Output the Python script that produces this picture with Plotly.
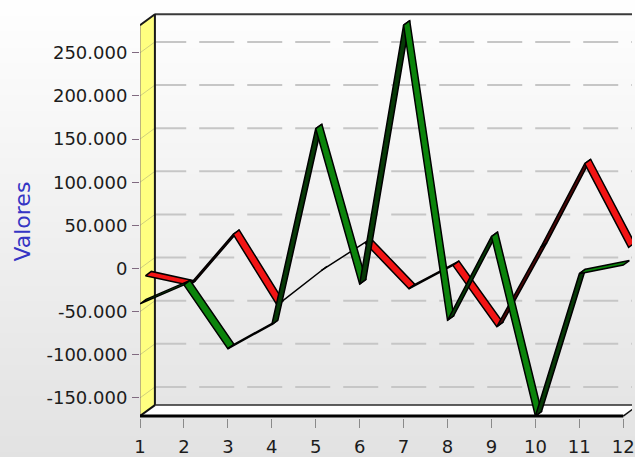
import plotly.graph_objects as go

# ---- data -------------------------------------------------------------
categorias = list(range(1, 13))
serie_verde = [-41000, -19000, -93000, -65000, 162000, -18000,
               282000, -60000, 37000, -171000, -6000, 4000]
serie_roja = [-13000, -24000, 35000, -47000, -7000, 25000,
              -28000, -1000, -72000, 20000, 117000, 20000]
y_ticks = [-150000, -100000, -50000, 0, 50000, 100000, 150000, 200000, 250000]
titulo_y = "Valores"

# ---- geometry of the pseudo-3D box -----------------------------------
W, H = 635, 457
M_L, M_R, M_T, M_B = 140, 0, 0, 35
PLOT_W = W - M_L - M_R
PLOT_H = H - M_T - M_B
PX_X = 44.2              # pixels per category
PX_Y = 0.000871          # pixels per value unit
UPP = 1.0 / PX_Y         # value units per pixel
DEPTH_PX_X, DEPTH_PX_Y = 15.0, 11.0
DX = DEPTH_PX_X / PX_X   # wall depth in category units
DY = DEPTH_PX_Y * UPP    # wall depth in value units

Y_MIN = min(serie_verde + serie_roja)
Y_MAX = max(serie_verde + serie_roja)
X_MIN, X_MAX = categorias[0], categorias[-1]

y_lo = Y_MIN - 2 * UPP
y_hi = y_lo + PLOT_H * UPP
x_lo = X_MIN
x_hi = X_MIN + PLOT_W / PX_X

fig = go.Figure()


def line(xs, ys, color, width, dash=None):
    fig.add_trace(go.Scatter(x=xs, y=ys, mode="lines",
                             line=dict(color=color, width=width, dash=dash),
                             hoverinfo="skip", showlegend=False))


def poly(xs, ys, fill, color="black", width=0):
    fig.add_trace(go.Scatter(x=xs + [xs[0]], y=ys + [ys[0]], mode="lines",
                             fill="toself", fillcolor=fill,
                             line=dict(color=color, width=width),
                             hoverinfo="skip", showlegend=False))


# background gradient (paper coordinates, reaches into the margins)
shapes = []
band = 8
n_bands = H // band + 2
for k in range(n_bands):
    s0 = k * band
    t = min(1.0, s0 / H)
    c = int(round(254 - (254 - 226) * t))
    y1 = (PLOT_H + M_T - s0) / PLOT_H
    y0 = (PLOT_H + M_T - s0 - band - 1) / PLOT_H
    shapes.append(dict(type="rect", xref="paper", yref="paper",
                       x0=-M_L / PLOT_W - 0.05, x1=1.05, y0=y0, y1=y1,
                       fillcolor=f"rgb({c},{c},{c})", line=dict(width=0),
                       layer="below"))

# dashed gridlines on the back wall
grid_start = X_MIN + 11.3 / PX_X
for v in y_ticks:
    line([grid_start, x_hi + 0.5], [v + DY, v + DY], "#c6c6c6", 2,
         dash="35px,13px")

# back wall top edge
line([X_MIN + DX, x_hi + 0.5], [Y_MAX + DY, Y_MAX + DY], "#3a3a3a", 2)

# left (yellow) wall
poly([X_MIN, X_MIN, X_MIN + DX, X_MIN + DX],
     [Y_MIN, Y_MAX, Y_MAX + DY, Y_MIN + DY], "#ffff80")
for v in y_ticks:
    line([X_MIN, X_MIN + DX], [v, v + DY], "rgba(170,170,120,0.55)", 1)
line([X_MIN, X_MIN], [Y_MIN, Y_MAX], "#7a6a7a", 1)
line([X_MIN, X_MIN + DX, X_MIN + DX], [Y_MAX, Y_MAX + DY, Y_MIN + DY],
     "#1a1a1a", 2)

# floor
poly([X_MIN, X_MAX, X_MAX + DX, X_MIN + DX],
     [Y_MIN, Y_MIN, Y_MIN + DY, Y_MIN + DY], "#ffffff")
line([X_MIN + DX, x_hi + 0.5], [Y_MIN + DY, Y_MIN + DY], "#2a2a2a", 1.5)
line([X_MIN, X_MIN + DX], [Y_MIN, Y_MIN + DY], "#111111", 2)
line([X_MAX, X_MAX + DX], [Y_MIN, Y_MIN + DY], "#111111", 1.5)
line([X_MIN, X_MAX], [Y_MIN, Y_MIN], "#000000", 3)


# ribbons
def ribbon(vals, z0, z1, light, dark):
    for i in range(len(vals) - 1):
        xa, xb = categorias[i], categorias[i + 1]
        va, vb = vals[i], vals[i + 1]
        xs = [xa + z0 * DX, xb + z0 * DX, xb + z1 * DX, xa + z1 * DX]
        ys = [va + z0 * DY, vb + z0 * DY, vb + z1 * DY, va + z1 * DY]
        sx = (xb - xa) * PX_X
        sy = -(vb - va) * PX_Y
        dxp = (z1 - z0) * DEPTH_PX_X
        dyp = -(z1 - z0) * DEPTH_PX_Y
        cross = sx * dyp - sy * dxp
        poly(xs, ys, light if cross < 0 else dark, "#000000", 1.5)


ribbon(serie_roja, 0.36, 0.76, "#f21414", "#4a0606")
ribbon(serie_verde, 0.0, 0.41, "#0b840b", "#073a07")

tick_text = [f"{v:,}".replace(",", ".") for v in y_ticks]

fig.update_layout(
    width=W, height=H,
    margin=dict(l=M_L, r=M_R, t=M_T, b=M_B, pad=0),
    paper_bgcolor="#ffffff", plot_bgcolor="rgba(0,0,0,0)",
    showlegend=False, shapes=shapes,
    font=dict(family="DejaVu Sans", size=18, color="#1c1c1c"),
    xaxis=dict(range=[x_lo, x_hi], tickvals=categorias,
               ticktext=[str(c) for c in categorias],
               ticks="outside", ticklen=9, tickcolor="#8a8a8a", tickwidth=1,
               showgrid=False, zeroline=False, showline=False,
               ticklabelstandoff=3, ticklabeloverflow="allow",
               fixedrange=True),
    yaxis=dict(range=[y_lo, y_hi], tickvals=y_ticks, ticktext=tick_text,
               ticks="outside", ticklen=7, tickcolor="#806a80", tickwidth=1,
               showgrid=False, zeroline=False, showline=False,
               ticklabelstandoff=1, fixedrange=True),
    annotations=[dict(text=titulo_y, xref="paper", yref="paper",
                      x=(22 - M_L) / PLOT_W, y=(PLOT_H + M_T - 224) / PLOT_H,
                      xanchor="center", yanchor="middle", textangle=-90,
                      showarrow=False,
                      font=dict(family="DejaVu Sans", size=22, color="#3535c4"))],
)

fig.write_html("out.html")
